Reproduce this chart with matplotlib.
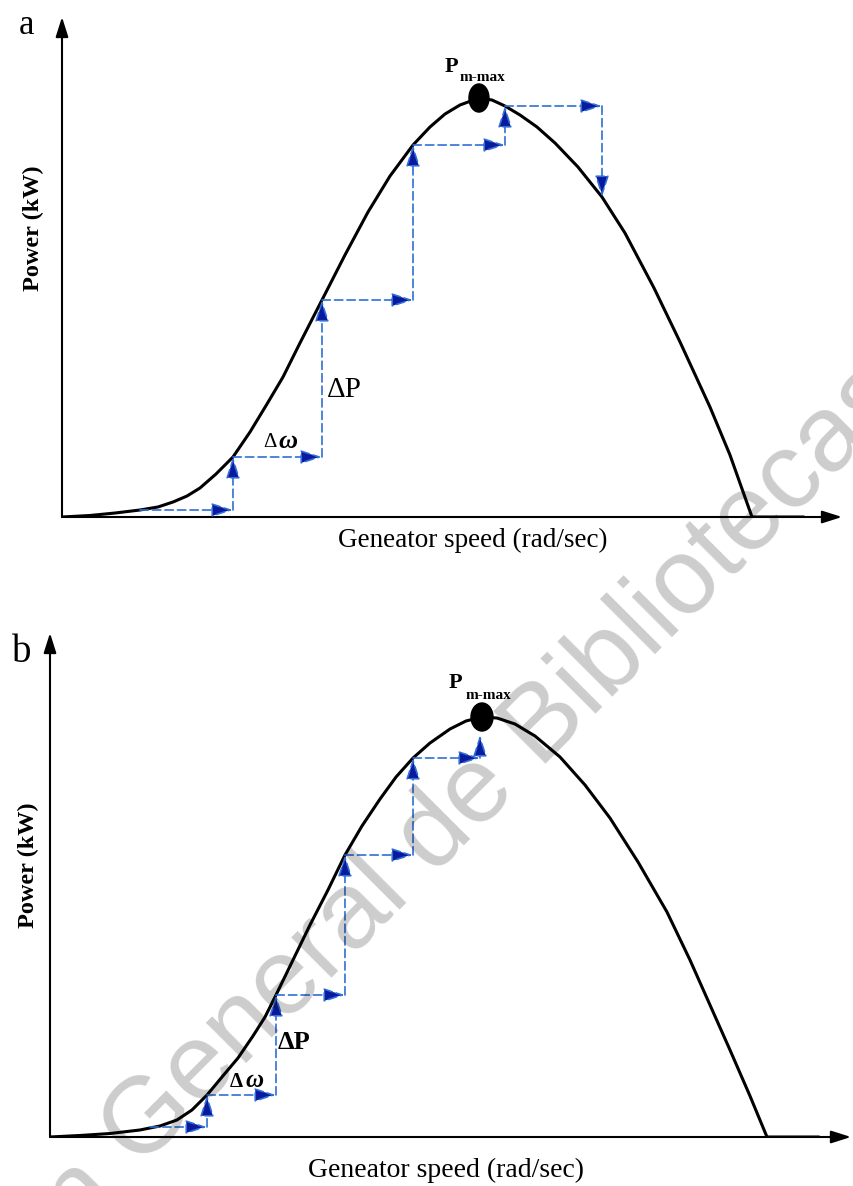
import matplotlib.pyplot as plt
from matplotlib.patches import Ellipse

plt.rcParams["font.family"] = "Liberation Serif"

W, H = 854, 1186
fig = plt.figure(figsize=(W / 100, H / 100), dpi=100)

# panel a: generator speed vs power (normalised, peak = 100)
a_speed = [0.0, 4.06, 7.68, 11.30, 13.91, 16.09, 18.12, 20.00, 22.32, 24.78, 27.25, 29.71,
           32.03, 34.49, 37.68, 41.01, 44.35, 47.54, 50.87, 53.33, 55.51, 57.68, 60.43,
           62.32, 64.20, 66.38, 68.84, 71.45, 74.78, 78.26, 81.59, 85.80, 89.57, 93.91,
           96.81, 100.0, 107.5]
a_power = [0.0, 0.36, 0.95, 1.67, 2.39, 3.58, 5.01, 6.92, 10.26, 14.32, 20.29, 26.97,
           33.41, 41.53, 51.79, 62.53, 72.79, 81.38, 88.78, 93.08, 96.18, 98.33, 100.0,
           99.52, 98.09, 95.94, 93.08, 89.26, 83.53, 76.37, 67.78, 54.65, 41.77, 26.25,
           14.80, 0.0, 0.0]
a_step_x = [11.30, 24.78, 24.78, 37.68, 37.68, 50.87, 50.87, 64.20, 64.20, 78.26, 78.26]
a_step_y = [1.67, 1.67, 14.32, 14.32, 51.79, 51.79, 88.78, 88.78, 98.09, 98.09, 76.37]

# panel b
b_speed = [0.0, 4.18, 8.37, 12.55, 15.34, 17.71, 19.80, 21.90, 23.99, 26.22, 28.31, 29.99,
           31.52, 33.89, 36.26, 38.77, 41.14, 43.51, 46.03, 48.26, 50.63, 53.00, 55.79,
           58.02, 60.25, 62.34, 64.85, 67.64, 71.13, 74.62, 78.10, 82.01, 86.05, 89.26,
           92.05, 94.84, 97.63, 100.0, 107.25]
b_power = [0.0, 0.36, 0.83, 1.67, 2.62, 4.05, 6.43, 10.0, 14.29, 18.81, 24.05, 28.57,
           33.81, 42.14, 50.48, 58.81, 67.14, 74.05, 80.48, 85.71, 90.24, 93.81, 97.14,
           99.05, 100.0, 99.76, 98.33, 95.48, 90.48, 83.81, 75.95, 65.48, 53.57, 42.14,
           31.43, 20.71, 9.76, 0.0, 0.0]
b_step_x = [13.95, 21.90, 21.90, 31.52, 31.52, 41.14, 41.14, 50.63, 50.63, 59.97, 59.97]
b_step_y = [2.38, 2.38, 10.0, 10.0, 33.81, 33.81, 67.14, 67.14, 90.24, 90.24, 95.71]

DASH = "#2f6fd8"
HEAD = "#0a1a9e"


def panel(l, t, r, b, xmax, ymax):
    ax = fig.add_axes([l / W, 1 - b / H, (r - l) / W, (b - t) / H])
    ax.set_xlim(0, xmax)
    ax.set_ylim(0, ymax)
    ax.axis("off")
    ap = dict(arrowstyle="-|>,head_length=1.2,head_width=0.38", mutation_scale=10,
              color="black", lw=1.5, shrinkA=0, shrinkB=0)
    ax.annotate("", xy=(1, 0), xytext=(0, 0), xycoords="axes fraction", arrowprops=ap)
    ax.annotate("", xy=(0, 1), xytext=(0, 0), xycoords="axes fraction", arrowprops=ap)
    return ax


def steps(ax, xs, ys):
    for i in range(len(xs) - 1):
        ax.annotate("", xy=(xs[i + 1], ys[i + 1]), xytext=(xs[i], ys[i]),
                    arrowprops=dict(arrowstyle="-|>,head_length=1.3,head_width=0.42",
                                    mutation_scale=10, linestyle=(0, (5, 2.5)), lw=1.2,
                                    ec=DASH, fc=HEAD, shrinkA=0, shrinkB=0))


# ---- panel a
ax1 = panel(62, 17, 842, 517, 780 / 6.9, 500 / 4.19)
ax1.plot(a_speed, a_power, color="black", lw=2.2, solid_capstyle="round", solid_joinstyle="round")
steps(ax1, a_step_x, a_step_y)
i = a_power.index(max(a_power))
ax1.add_patch(Ellipse((a_speed[i], a_power[i]), 2.9, 6.7, color="black", zorder=5))
ax1.text(56.5, 107.4, "P", fontsize=16, fontweight="bold", ha="center", va="center")
ax1.text(61.0, 104.8, "m-max", fontsize=11, fontweight="bold", ha="center", va="center")
ax1.text(38.4, 30.3, "ΔP", fontsize=21, ha="left", va="center")
ax1.text(29.1, 17.7, "Δ", fontsize=15, ha="left", va="center")
ax1.text(31.4, 17.9, "ω", fontsize=19, fontweight="bold", style="italic", ha="left", va="center")

# ---- panel b
ax2 = panel(50, 633, 851, 1137, 801 / 7.17, 504 / 4.2)
ax2.plot(b_speed, b_power, color="black", lw=2.2, solid_capstyle="round", solid_joinstyle="round")
steps(ax2, b_step_x, b_step_y)
i = b_power.index(max(b_power))
ax2.add_patch(Ellipse((b_speed[i], b_power[i]), 3.07, 6.67, color="black", zorder=5))
ax2.text(56.5, 108.1, "P", fontsize=16, fontweight="bold", ha="center", va="center")
ax2.text(61.1, 105.2, "m-max", fontsize=11, fontweight="bold", ha="center", va="center")
ax2.text(31.8, 22.4, "ΔP", fontsize=19, fontweight="bold", ha="left", va="center")
ax2.text(25.1, 13.1, "Δ", fontsize=15, fontweight="bold", ha="left", va="center")
ax2.text(27.3, 13.4, "ω", fontsize=18, fontweight="bold", style="italic", ha="left", va="center")

# panel letters and axis titles
fig.text(27 / W, 1 - 25 / H, "a", fontsize=25, ha="center", va="center")
fig.text(22 / W, 1 - 652 / H, "b", fontsize=28, ha="center", va="center")
fig.text(473 / W, 1 - 540 / H, "Geneator speed (rad/sec)", fontsize=19.5, ha="center", va="center")
fig.text(446 / W, 1 - 1170 / H, "Geneator speed (rad/sec)", fontsize=20, ha="center", va="center")
fig.text(33 / W, 1 - 228 / H, "Power (kW)", fontsize=17.5, fontweight="bold", rotation=90,
         ha="center", va="center")
fig.text(28 / W, 1 - 865 / H, "Power (kW)", fontsize=17.5, fontweight="bold", rotation=90,
         ha="center", va="center")

# watermark
wm = dict(fontsize=78, family="Liberation Sans", color="black", alpha=0.2, rotation=45,
          rotation_mode="anchor", va="center")
fig.text(505 / W, 1 - 765 / H, "General de Bibliotecas", ha="center", **wm)
fig.text(99 / W, 1 - 1171 / H, "Dirección", ha="right", **wm)

fig.savefig("out.png", dpi=100)
